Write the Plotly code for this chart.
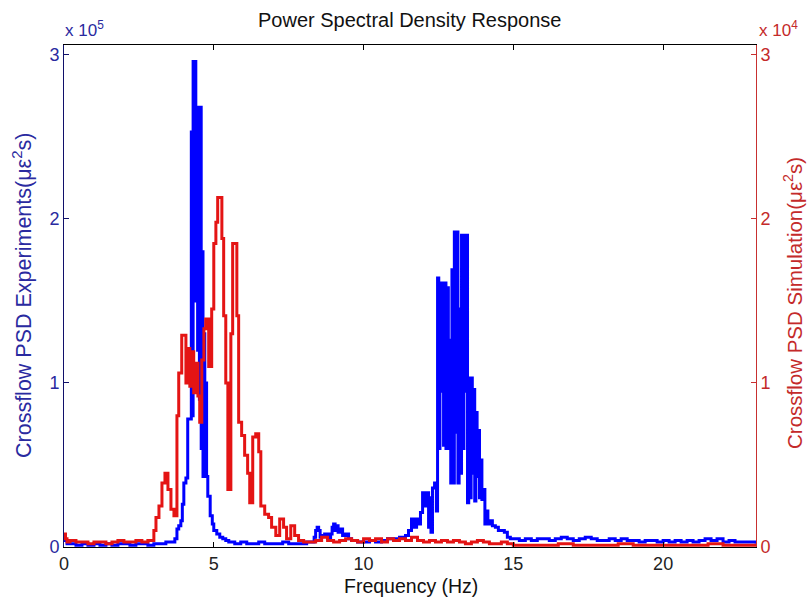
import plotly.graph_objects as go

# ---------------- data ----------------
# Experiments (left axis, units of 1e5 micro-strain^2 s); each value holds until next frequency
BLUE_FREQ = [
    0.0, 0.1, 0.2, 0.4, 0.6, 0.8, 1.0, 1.2, 1.4, 1.6, 1.8, 2.0, 2.2, 2.4, 2.6, 2.8, 3.0, 3.2, 3.4, 3.6,
    3.7, 3.77, 3.83, 3.9, 3.95, 4.0, 4.07, 4.13,
    4.25, 4.28, 4.31, 4.34, 4.37, 4.40, 4.43, 4.46, 4.49, 4.52, 4.55, 4.58, 4.61, 4.64, 4.67, 4.70, 4.73, 4.76,
    4.80, 4.88, 4.95, 5.0, 5.1, 5.2, 5.3, 5.4, 5.5,
    5.7, 5.9, 6.1, 6.3, 6.5, 6.7, 6.9, 7.1, 7.3, 7.5, 7.7, 7.9, 8.1, 8.25,
    8.35, 8.4, 8.45, 8.5, 8.55, 8.6, 8.7, 8.8, 8.9, 8.95, 9.0, 9.05, 9.1, 9.15, 9.2, 9.3, 9.4, 9.5, 9.6,
    9.8, 10.0, 10.2, 10.4, 10.6, 10.8, 11.0, 11.2, 11.4,
    11.5, 11.6, 11.7, 11.77, 11.85, 11.9, 11.97, 12.05, 12.1, 12.17, 12.2, 12.25, 12.3, 12.37, 12.43,
    12.47, 12.51, 12.55, 12.59, 12.63, 12.67, 12.71, 12.75, 12.79, 12.83, 12.87, 12.91, 12.95, 12.99,
    13.03, 13.07, 13.11, 13.15, 13.19, 13.23, 13.27, 13.31, 13.35, 13.39, 13.43, 13.47,
    13.51, 13.55, 13.59, 13.63, 13.67, 13.71, 13.75, 13.79, 13.83, 13.87, 13.91, 13.95, 14.0, 14.05, 14.1, 14.15, 14.2,
    14.3, 14.4, 14.5, 14.6, 14.7, 14.8, 14.9, 15.0,
    15.2, 15.4, 15.6, 15.8, 16.0, 16.2, 16.4, 16.6, 16.8, 17.0, 17.2, 17.4, 17.6, 17.8, 18.0, 18.2, 18.4, 18.6, 18.8, 19.0,
    19.2, 19.4, 19.6, 19.8, 20.0, 20.2, 20.4, 20.6, 20.8, 21.0, 21.2, 21.4, 21.6, 21.8, 22.0, 22.2, 22.4, 22.6, 22.8, 23.1,
]
BLUE_PSD_E5 = [
    0.04, 0.02, 0.02, 0.01, 0.02, 0.01, 0.02, 0.01, 0.02, 0.01, 0.02, 0.02, 0.01, 0.02, 0.02, 0.01, 0.02, 0.02, 0.03, 0.03,
    0.05, 0.11, 0.13, 0.16, 0.26, 0.39, 0.42, 0.78,
    2.53, 0.80, 2.96, 1.50, 2.96, 2.00, 2.68, 1.20, 2.68, 0.90, 2.68, 0.60, 1.80, 0.43, 1.30, 0.43, 1.00, 0.43,
    0.31, 0.19, 0.14, 0.10, 0.08, 0.06, 0.05, 0.04, 0.03,
    0.02, 0.03, 0.02, 0.02, 0.03, 0.02, 0.02, 0.02, 0.03, 0.02, 0.02, 0.02, 0.03, 0.03,
    0.06, 0.10, 0.12, 0.10, 0.06, 0.07, 0.08, 0.05, 0.08, 0.12, 0.14, 0.10, 0.13, 0.09, 0.11, 0.07, 0.08, 0.05, 0.04,
    0.03, 0.03, 0.04, 0.03, 0.04, 0.05, 0.05, 0.06, 0.07,
    0.10, 0.17, 0.12, 0.17, 0.14, 0.21, 0.33, 0.25, 0.33, 0.12, 0.30, 0.09, 0.36, 0.39, 0.22,
    1.64, 0.60, 1.61, 0.95, 1.61, 0.62, 1.61, 0.60, 1.58, 0.60, 1.26, 0.39, 1.69, 0.39,
    1.92, 0.70, 1.92, 0.39, 1.45, 0.45, 1.90, 0.60, 1.90, 0.95, 1.90, 0.27,
    1.03, 0.30, 1.03, 0.45, 0.96, 0.28, 0.82, 0.43, 0.71, 0.30, 0.53, 0.29, 0.35, 0.14, 0.22, 0.14, 0.16,
    0.13, 0.12, 0.10, 0.10, 0.09, 0.06, 0.05, 0.05,
    0.04, 0.05, 0.04, 0.05, 0.05, 0.04, 0.05, 0.06, 0.05, 0.04, 0.05, 0.06, 0.05, 0.04, 0.04, 0.05, 0.04, 0.05, 0.04, 0.04,
    0.03, 0.04, 0.04, 0.03, 0.04, 0.03, 0.04, 0.03, 0.04, 0.03, 0.04, 0.05, 0.04, 0.05, 0.03, 0.04, 0.03, 0.03, 0.03, 0.02,
]

# Simulation (right axis, units of 1e4 micro-strain^2 s); each value holds until next frequency
RED_FREQ = [
    0.0, 0.05, 0.1, 0.2, 0.4, 0.6, 0.8, 1.0, 1.2, 1.4, 1.6, 1.8, 2.0, 2.2, 2.4, 2.6, 2.8,
    2.9, 3.0, 3.07, 3.17, 3.27, 3.37, 3.47, 3.57, 3.67,
    3.77, 3.83, 3.93, 4.07, 4.13, 4.2, 4.27, 4.33, 4.4, 4.47, 4.53, 4.6, 4.67, 4.73, 4.83, 4.93,
    5.0, 5.07, 5.13, 5.27, 5.33, 5.4, 5.47,
    5.57, 5.63, 5.77, 5.83, 5.93, 6.03, 6.13, 6.2, 6.3, 6.4, 6.5, 6.57, 6.7, 6.83, 6.93,
    7.07, 7.2, 7.33, 7.43, 7.57, 7.7, 7.83, 8.0, 8.2,
    8.4, 8.6, 8.8, 9.0, 9.2, 9.4, 9.6, 9.8, 10.0, 10.2, 10.4, 10.6, 10.8, 11.0, 11.2, 11.4, 11.6, 11.8, 12.0,
    12.2, 12.4, 12.6, 12.8, 13.0, 13.2, 13.4, 13.6, 13.8, 14.0, 14.2, 14.4, 14.6, 14.8, 15.0,
    15.5, 16.0, 16.5, 17.0, 17.5, 18.0, 18.5, 19.0, 19.5, 20.0, 20.5, 21.0, 21.5, 22.0, 22.5, 23.1,
]
RED_PSD_E4 = [
    0.08, 0.05, 0.03, 0.04, 0.03, 0.03, 0.02, 0.03, 0.03, 0.02, 0.03, 0.04, 0.03, 0.03, 0.04, 0.03, 0.04,
    0.04, 0.10, 0.18, 0.25, 0.39, 0.45, 0.35, 0.23, 0.19,
    0.80, 1.06, 1.29, 1.00, 1.21, 0.98, 1.19, 0.94, 1.12, 0.92, 0.76, 1.14, 1.33, 1.39, 1.10, 1.45,
    1.85, 1.98, 2.13, 1.88, 1.41, 1.00, 0.35,
    1.30, 1.85, 1.41, 0.76, 0.68, 0.56, 0.45, 0.27, 0.67, 0.69, 0.58, 0.25, 0.20, 0.18, 0.12,
    0.07, 0.17, 0.12, 0.05, 0.13, 0.07, 0.04, 0.03, 0.03,
    0.04, 0.06, 0.04, 0.03, 0.04, 0.05, 0.04, 0.03, 0.05, 0.04, 0.05, 0.03, 0.05, 0.04, 0.05, 0.04, 0.06, 0.04, 0.03,
    0.04, 0.03, 0.04, 0.03, 0.04, 0.03, 0.02, 0.03, 0.04, 0.03, 0.02, 0.02, 0.03, 0.02, 0.01,
    0.01, 0.01, 0.02, 0.01, 0.01, 0.01, 0.02, 0.01, 0.01, 0.01, 0.01, 0.01, 0.02, 0.01, 0.01, 0.01,
]

X_TICKS = [0, 5, 10, 15, 20]
Y_TICKS = [0, 1, 2, 3]
X_RANGE = [0, 23.1]
Y_RANGE = [0, 3.06]

TITLE = "Power Spectral Density Response"
X_TITLE = "Frequency (Hz)"
Y1_TITLE = "Crossflow PSD Experiments(\u03bc\u03b5<sup>2</sup>s)"
Y2_TITLE = "Crossflow PSD Simulation(\u03bc\u03b5<sup>2</sup>s)"
Y1_EXP = "x 10<sup>5</sup>"
Y2_EXP = "x 10<sup>4</sup>"

# ---------------- styling ----------------
W, H = 808, 607
L, R, T, B = 64, 52, 45, 60
FONT = "Liberation Sans, Arial, sans-serif"
BLUE = "#0000ff"
RED = "#e41414"
BLUE_TXT = "#2a2aa0"
RED_TXT = "#c42a2a"


def px(xp):
    return (xp - L) / (W - L - R)


def py(yp):
    return (H - B - yp) / (H - T - B)


fig = go.Figure()
fig.add_trace(go.Scatter(x=BLUE_FREQ, y=BLUE_PSD_E5, mode="lines",
                         line=dict(color=BLUE, width=3, shape="hv"), yaxis="y",
                         showlegend=False, hoverinfo="skip"))
fig.add_trace(go.Scatter(x=RED_FREQ, y=RED_PSD_E4, mode="lines",
                         line=dict(color=RED, width=3, shape="hv"), yaxis="y2",
                         showlegend=False, hoverinfo="skip"))

fig.update_layout(
    width=W, height=H, autosize=False,
    margin=dict(l=L, r=R, t=T, b=B, pad=0),
    paper_bgcolor="white", plot_bgcolor="white",
    font=dict(family=FONT, size=18, color="#222222"),
    xaxis=dict(range=X_RANGE, tickvals=X_TICKS, ticks="inside", ticklen=5,
               tickcolor="#000000", showline=True, linecolor="#000000",
               linewidth=1, mirror="ticks", showgrid=False, zeroline=False,
               tickfont=dict(size=18, color="#222222")),
    yaxis=dict(range=Y_RANGE, tickvals=Y_TICKS, ticks="inside", ticklen=5,
               tickcolor="#10106a", showline=True, linecolor="#10106a",
               linewidth=1, showgrid=False, zeroline=False,
               tickfont=dict(size=18, color=BLUE_TXT)),
    yaxis2=dict(range=Y_RANGE, tickvals=Y_TICKS, ticks="inside", ticklen=5,
                tickcolor="#c83030", showline=True, linecolor="#c83030",
                linewidth=1, showgrid=False, zeroline=False,
                overlaying="y", side="right",
                tickfont=dict(size=18, color=RED_TXT)),
)

ann = [
    dict(text=TITLE, x=px(409), y=py(20), font=dict(size=20, color="#111111")),
    dict(text=X_TITLE, x=px(411), y=py(586), font=dict(size=19.5, color="#111111")),
    dict(text=Y1_TITLE, x=px(22), y=py(296), textangle=-90, font=dict(size=21.5, color=BLUE_TXT)),
    dict(text=Y2_TITLE, x=px(793), y=py(303), textangle=-90, font=dict(size=20.5, color=RED_TXT)),
    dict(text=Y1_EXP, x=px(63), y=py(29), xanchor="left", font=dict(size=17, color=BLUE_TXT)),
    dict(text=Y2_EXP, x=px(757), y=py(29), xanchor="left", font=dict(size=17, color=RED_TXT)),
]
for a in ann:
    a.setdefault("xanchor", "center")
    a.update(xref="paper", yref="paper", yanchor="middle", showarrow=False)
fig.update_layout(annotations=ann)

fig.write_html("out.html")
